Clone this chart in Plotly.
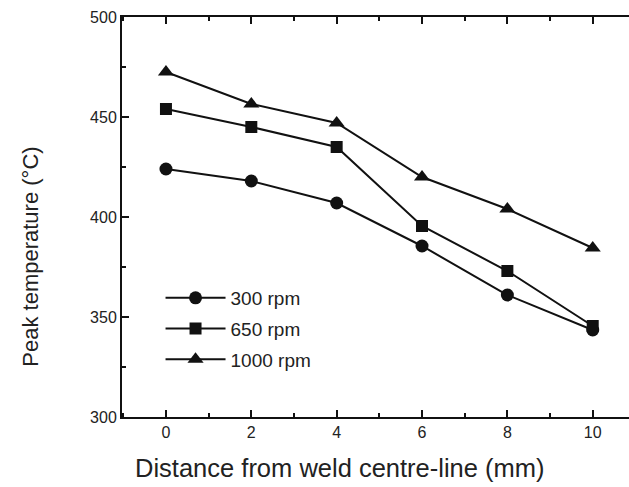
import plotly.graph_objects as go

# Peak temperature vs distance from the weld centre-line, for three tool speeds
distance_mm = [0, 2, 4, 6, 8, 10]
temp_300rpm = [424, 418, 407, 385.5, 361, 343.5]
temp_650rpm = [454, 445, 435, 395.5, 373, 345.5]
temp_1000rpm = [472.5, 456.5, 447, 420, 404, 384.5]

series = [
    ("300 rpm", temp_300rpm, "circle", 13),
    ("650 rpm", temp_650rpm, "square", 12),
    ("1000 rpm", temp_1000rpm, "triangle-up", 14),
]

x_ticks = [0, 2, 4, 6, 8, 10]
y_ticks = [300, 350, 400, 450, 500]

FONT = "Liberation Sans, Arial, sans-serif"
INK = "#111111"

fig = go.Figure()
for i, (name, temps, symbol, size) in enumerate(series):
    fig.add_trace(go.Scatter(
        x=distance_mm, y=temps, name=name, mode="lines+markers",
        legendgroup=f"g{i}",
        line=dict(color=INK, width=2),
        marker=dict(symbol=symbol, size=size, color=INK),
    ))

axis_common = dict(
    showgrid=False, zeroline=False,
    showline=True, linecolor=INK, linewidth=2,
    ticks="inside", ticklen=7, tickwidth=2, tickcolor=INK,
    tickfont=dict(family=FONT, size=16, color="#222222"),
    tickmode="linear",
)

x_step = x_ticks[1] - x_ticks[0]
y_step = y_ticks[1] - y_ticks[0]

fig.update_xaxes(
    range=[-1.03, 10.85], tick0=x_ticks[0], dtick=x_step, mirror="allticks",
    minor=dict(ticks="inside", ticklen=4, tickwidth=2, tickcolor=INK, dtick=x_step / 2),
    **axis_common,
)
fig.update_yaxes(
    range=[300, 500], tick0=y_ticks[0], dtick=y_step,
    minor=dict(ticks="inside", ticklen=4, tickwidth=2, tickcolor=INK, dtick=y_step / 2),
    **axis_common,
)

fig.add_annotation(
    text="Distance from weld centre-line (mm)", xref="paper", yref="paper",
    x=0.43, y=-0.128, xanchor="center", yanchor="middle", showarrow=False,
    font=dict(family=FONT, size=25.5, color="#222222"),
)
fig.add_annotation(
    text="Peak temperature (°C)", xref="paper", yref="paper",
    x=-0.182, y=0.40, xanchor="center", yanchor="middle", showarrow=False,
    textangle=-90, font=dict(family=FONT, size=22, color="#222222"),
)

fig.update_layout(
    width=629, height=487,
    margin=dict(l=122, r=0, t=17, b=70),
    paper_bgcolor="white", plot_bgcolor="white",
    showlegend=True,
    legend=dict(
        x=0.076, y=0.345, xanchor="left", yanchor="top",
        bgcolor="rgba(0,0,0,0)", borderwidth=0,
        font=dict(family=FONT, size=19, color="#222222"),
        itemwidth=60, tracegroupgap=3,
    ),
)

fig.write_html("out.html")
